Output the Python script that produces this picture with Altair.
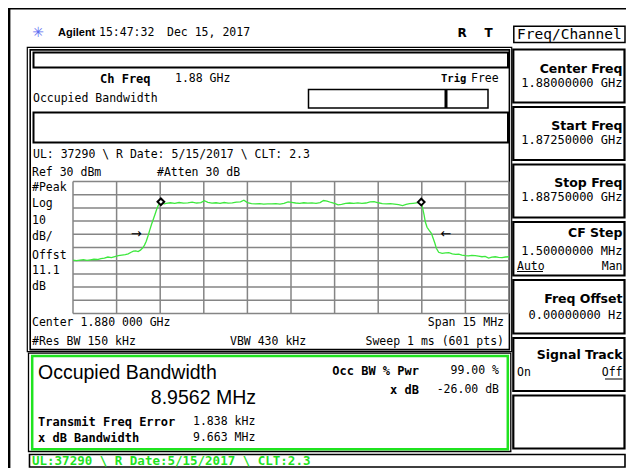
import altair as alt
import pandas as pd

center_ghz = 1.88
span_mhz = 15.0
ref_dbm = 30.0
db_per_div = 10.0
n_div = 10
occ_bw_mhz = 8.9562
freq_err_khz = 1.838
xdb_bw_mhz = 9.663
marker_dbm = [14.6, 14.4]
arrow_dbm = -10.0

# trace: offset from start frequency (MHz) and level (dBm)
trace_mhz = [
    0.00, 0.12, 0.24, 0.36, 0.48, 0.60, 0.72, 0.84, 0.96, 1.08, 1.20, 1.32, 1.44, 1.56,
    1.68, 1.80, 1.90, 2.00, 2.08, 2.16, 2.24, 2.32, 2.40, 2.46, 2.52, 2.58, 2.64, 2.70,
    2.76, 2.82, 2.88, 2.94, 3.00, 3.06, 3.14,
    3.20, 3.35, 3.50, 3.65, 3.80, 3.95, 4.10, 4.25, 4.40, 4.52, 4.64, 4.78, 4.92, 5.06,
    5.20, 5.34, 5.48, 5.62, 5.76, 5.88, 6.00, 6.14, 6.28, 6.42, 6.56, 6.70, 6.84, 6.98,
    7.12, 7.26, 7.40, 7.52, 7.66, 7.80, 7.94, 8.08, 8.22, 8.36, 8.50, 8.62, 8.74, 8.88,
    9.02, 9.12, 9.24, 9.38, 9.52, 9.66, 9.80, 9.94, 10.08, 10.22, 10.36, 10.50, 10.64,
    10.78, 10.92, 11.06, 11.20, 11.34, 11.46, 11.58, 11.70, 11.82, 11.92, 11.98,
    12.03, 12.08, 12.12, 12.18, 12.26, 12.33, 12.39, 12.45, 12.50, 12.58, 12.70, 12.82,
    12.93, 13.05, 13.16, 13.27, 13.38, 13.50, 13.61, 13.72, 13.84, 13.95, 14.07, 14.18,
    14.30, 14.41, 14.53, 14.64, 14.76, 14.88, 15.00,
]
trace_dbm = [
    -29.6, -29.9, -29.5, -29.2, -29.7, -29.3, -28.9, -29.1, -28.4, -28.0, -27.2, -27.6, -26.9, -26.2,
    -25.8, -25.4, -24.8, -23.6, -22.8, -22.6, -23.1, -22.0, -20.2, -18.2, -15.3, -11.3, -6.8, -2.6,
    1.2, 5.0, 9.0, 12.2, 14.2, 13.6, 13.1,
    13.4, 13.9, 13.5, 14.1, 13.6, 13.8, 14.3, 13.7, 14.0, 15.4, 14.2, 13.6, 13.9, 13.5,
    14.1, 13.6, 13.8, 14.3, 14.6, 15.8, 14.0, 13.2, 13.0, 13.3, 12.9, 13.1, 13.0, 13.2,
    12.9, 13.4, 14.6, 14.2, 13.7, 13.5, 13.9, 13.6, 13.8, 13.5, 14.0, 15.6, 15.2, 14.1,
    13.2, 12.3, 12.6, 13.4, 13.7, 13.4, 13.8, 13.5, 13.7, 14.5, 14.8, 13.9, 13.2,
    13.0, 13.3, 12.9, 12.5, 11.8, 12.6, 13.2, 13.5, 13.8, 14.0, 14.1,
    9.7, 4.6, -0.5, -4.7, -7.3, -9.2, -13.0, -16.8, -20.6, -23.6, -24.4, -24.0,
    -23.9, -24.8, -25.2, -25.0, -25.7, -26.1, -26.4, -25.9, -26.2, -26.6, -27.0, -26.7,
    -28.0, -27.3, -27.0, -27.5, -27.7, -27.2, -27.0,
]

# ---------------- derived quantities ----------------
start_ghz = center_ghz - span_mhz / 2000.0
stop_ghz = center_ghz + span_mhz / 2000.0
bottom_dbm = ref_dbm - db_per_div * n_div
sig_center = center_ghz + freq_err_khz / 1e6
occ_edges = [sig_center - occ_bw_mhz / 2000.0, sig_center + occ_bw_mhz / 2000.0]
xdb_edges = [sig_center - xdb_bw_mhz / 2000.0, sig_center + xdb_bw_mhz / 2000.0]
freq_ticks = [start_ghz + i * span_mhz / n_div / 1000.0 for i in range(n_div + 1)]
db_ticks = [ref_dbm - i * db_per_div for i in range(n_div + 1)]

# ---------------- layout (page pixels -> chart pixels) ----------------
W, H = 618, 460
def P(v):
    return v - 8

GREEN = "#1fe31f"
TRACE = "#3ee83e"
GRID = "#858585"
MONO = "DejaVu Sans Mono"
SANS = "DejaVu Sans"
BIG = "Liberation Sans"

def frames_layer(rows):
    df = pd.DataFrame([{"x": P(a), "y": P(b), "x2": P(c), "y2": P(d), "sw": s, "col": col}
                       for a, b, c, d, s, col in rows])
    return alt.Chart(df).mark_rect(fillOpacity=0).encode(
        x=alt.X("x:Q", scale=None, axis=None), x2="x2:Q",
        y=alt.Y("y:Q", scale=None, axis=None), y2="y2:Q",
        stroke=alt.Stroke("col:N", scale=None),
        strokeWidth=alt.StrokeWidth("sw:Q", scale=None),
    )

def rules_layer(rows):
    df = pd.DataFrame([{"x": P(a), "y": P(b), "x2": P(c), "y2": P(d), "sw": s}
                       for a, b, c, d, s in rows])
    return alt.Chart(df).mark_rule(color="black").encode(
        x=alt.X("x:Q", scale=None, axis=None), x2="x2:Q",
        y=alt.Y("y:Q", scale=None, axis=None), y2="y2:Q",
        strokeWidth=alt.StrokeWidth("sw:Q", scale=None),
    )

def text_layer(rows, font, size, weight="normal", color="black", align="left"):
    df = pd.DataFrame([{"t": t, "x": P(x), "y": P(y)} for t, x, y in rows])
    return alt.Chart(df).mark_text(
        font=font, fontSize=size, fontWeight=weight, color=color,
        align=align, baseline="middle",
    ).encode(
        x=alt.X("x:Q", scale=None, axis=None),
        y=alt.Y("y:Q", scale=None, axis=None),
        text="t:N",
    )

BX0, BX1 = 513.3, 624.5
frames = frames_layer([
    (27.3, 47.3, 511.7, 351.7, 1.2, "black"),
    (30.2, 49.9, 509.4, 349.6, 1.6, "black"),
    (33.5, 52.5, 508.0, 67.5, 2.0, "black"),
    (308.5, 89.5, 488.0, 108.0, 1.5, "black"),
    (33.5, 112.5, 508.0, 142.5, 2.0, "black"),
    (28.5, 353.2, 510.8, 451.5, 1.3, "black"),
    (32.2, 356.0, 507.8, 449.2, 2.5, GREEN),
    (29.5, 454.5, 625.0, 467.0, 1.6, "black"),
    (513.8, 26.3, 625.0, 42.5, 1.5, "black"),
    (BX0, 49.5, BX1, 102.5, 2.2, "black"),
    (BX0, 107.0, BX1, 160.0, 2.2, "black"),
    (BX0, 164.5, BX1, 217.5, 2.2, "black"),
    (BX0, 222.0, BX1, 275.5, 2.2, "black"),
    (BX0, 280.0, BX1, 333.5, 2.2, "black"),
    (BX0, 338.0, BX1, 391.0, 2.2, "black"),
    (BX0, 395.5, BX1, 448.5, 2.2, "black"),
])

rules = rules_layer([
    (8, 8.2, 634, 8.2, 2.6),
    (9.2, 7, 9.2, 476, 2.4),
    (446, 89.5, 446, 108, 3.0),
    (517, 271.5, 543, 271.5, 1.0),
    (605, 379, 622.5, 379, 1.0),
])

t_mono = text_layer([
    ("Occupied Bandwidth", 33, 99),
    ("UL: 37290 \\ R Date: 5/15/2017 \\ CLT: 2.3", 33, 155),
    ("Ref 30 dBm", 32, 173),
    ("#Atten 30 dB", 157, 173),
    ("#Peak", 32, 188),
    ("Log", 32, 204),
    ("10", 32, 221),
    ("dB/", 32, 237),
    ("Offst", 32, 255.5),
    ("11.1", 32, 270.5),
    ("dB", 32, 287),
    ("Center 1.880 000 GHz", 32, 323),
    ("#Res BW 150 kHz", 32, 342),
    ("VBW 430 kHz", 230, 342),
    ("1.88 GHz", 175, 79),
    ("Free", 471, 79),
    ("1.838 kHz", 193, 422),
    ("9.663 MHz", 193, 438),
    ("15:47:32", 99, 33),
    ("Dec 15, 2017", 167, 33),
    ("On", 517, 373),
    ("Auto", 517, 266.5),
], MONO, 11.5)

t_mono_r = text_layer([
    ("Span 15 MHz", 504, 323),
    ("Sweep 1 ms (601 pts)", 504, 342),
    ("99.00 %", 499, 371),
    ("-26.00 dB", 499, 390),
    ("Man", 622.5, 266.5),
    ("Off", 622.5, 373),
], MONO, 11.5, align="right")

t_vals = text_layer([
    ("1.88000000 GHz", 622.5, 82.5),
    ("1.87250000 GHz", 622.5, 139.5),
    ("1.88750000 GHz", 622.5, 196.5),
    ("1.50000000 MHz", 622.5, 251),
    ("0.00000000  Hz", 622.5, 314.5),
], MONO, 12, align="right")

t_keys = text_layer([
    ("Center Freq", 622.5, 69),
    ("Start Freq", 622.5, 126),
    ("Stop Freq", 622.5, 183),
    ("CF Step", 622.5, 233),
    ("Freq Offset", 622.5, 298.5),
    ("Signal Track", 622.5, 355),
], SANS, 12.5, weight="bold", align="right")

t_menu = text_layer([("Freq/Channel", 517, 34.5)], MONO, 14.5)

t_bold = text_layer([
    ("Ch Freq", 100, 79),
    ("Transmit Freq Error", 38, 422),
    ("x dB Bandwidth", 38, 438),
], MONO, 12, weight="bold")

t_trig = text_layer([("Trig", 441, 79)], MONO, 10.5, weight="bold")

t_bold_r = text_layer([
    ("Occ BW % Pwr", 419, 371),
    ("x dB", 419, 390),
], MONO, 12, weight="bold", align="right")

t_big = text_layer([("Occupied Bandwidth", 38, 373)], BIG, 19.5)
t_big_r = text_layer([("8.9562 MHz", 256, 398)], BIG, 19.5, align="right")

t_status = text_layer([("UL:37290 \\ R Date:5/15/2017 \\ CLT:2.3", 32, 460.5)],
                      MONO, 12.5, weight="bold", color=GREEN)

t_brand = text_layer([("Agilent", 58, 33)], "Liberation Sans", 11, weight="bold")
t_rt = text_layer([("R", 462, 33), ("T", 488.5, 33)], SANS, 12, weight="bold", align="center")
t_logo = text_layer([("\u2733", 38, 33)], SANS, 14, color="#5b6cf0", align="center")

# ---------------- spectrum through data scales ----------------
xs = alt.Scale(domain=[start_ghz, stop_ghz], range=[P(73), P(509)], nice=False, zero=False)
ys = alt.Scale(domain=[bottom_dbm, ref_dbm], range=[P(313.5), P(181.5)], nice=False, zero=False)

vgrid = alt.Chart(pd.DataFrame({"f": freq_ticks, "top": ref_dbm, "bot": bottom_dbm})).mark_rule(
    color=GRID, strokeWidth=1.5).encode(
    x=alt.X("f:Q", scale=xs, axis=None),
    y=alt.Y("top:Q", scale=ys, axis=None), y2="bot:Q")

hgrid = alt.Chart(pd.DataFrame({"d": db_ticks, "l": start_ghz, "r": stop_ghz})).mark_rule(
    color=GRID, strokeWidth=1.5).encode(
    y=alt.Y("d:Q", scale=ys, axis=None),
    x=alt.X("l:Q", scale=xs, axis=None), x2="r:Q")

trace_df = pd.DataFrame({"f": [start_ghz + m / 1000.0 for m in trace_mhz], "d": trace_dbm})
trace = alt.Chart(trace_df).mark_line(color=TRACE, strokeWidth=1.3).encode(
    x=alt.X("f:Q", scale=xs, axis=None),
    y=alt.Y("d:Q", scale=ys, axis=None))

markers = alt.Chart(pd.DataFrame({"f": occ_edges, "d": marker_dbm})).mark_point(
    shape="diamond", filled=True, fill="white", stroke="black", strokeWidth=2,
    size=45, opacity=1).encode(
    x=alt.X("f:Q", scale=xs, axis=None),
    y=alt.Y("d:Q", scale=ys, axis=None))

arrow_l = alt.Chart(pd.DataFrame({"f": [xdb_edges[0]], "d": [arrow_dbm], "t": ["\u2192"]})).mark_text(
    font=SANS, fontSize=13, align="right", baseline="middle", dx=-9, color="black").encode(
    x=alt.X("f:Q", scale=xs, axis=None), y=alt.Y("d:Q", scale=ys, axis=None), text="t:N")
arrow_r = alt.Chart(pd.DataFrame({"f": [xdb_edges[1]], "d": [arrow_dbm], "t": ["\u2190"]})).mark_text(
    font=SANS, fontSize=13, align="left", baseline="middle", dx=9, color="black").encode(
    x=alt.X("f:Q", scale=xs, axis=None), y=alt.Y("d:Q", scale=ys, axis=None), text="t:N")

chart = alt.layer(
    frames, rules, vgrid, hgrid, trace, markers, arrow_l, arrow_r,
    t_mono, t_mono_r, t_vals, t_keys, t_menu, t_bold, t_trig, t_bold_r, t_big, t_big_r,
    t_status, t_brand, t_rt, t_logo,
).resolve_scale(
    x="independent", y="independent"
).properties(
    width=W, height=H, padding=0, autosize=alt.AutoSizeParams(type="none"),
    background="white",
).configure_view(stroke=None)

chart.save("out.html", embed_options={"renderer": "svg", "actions": False})
